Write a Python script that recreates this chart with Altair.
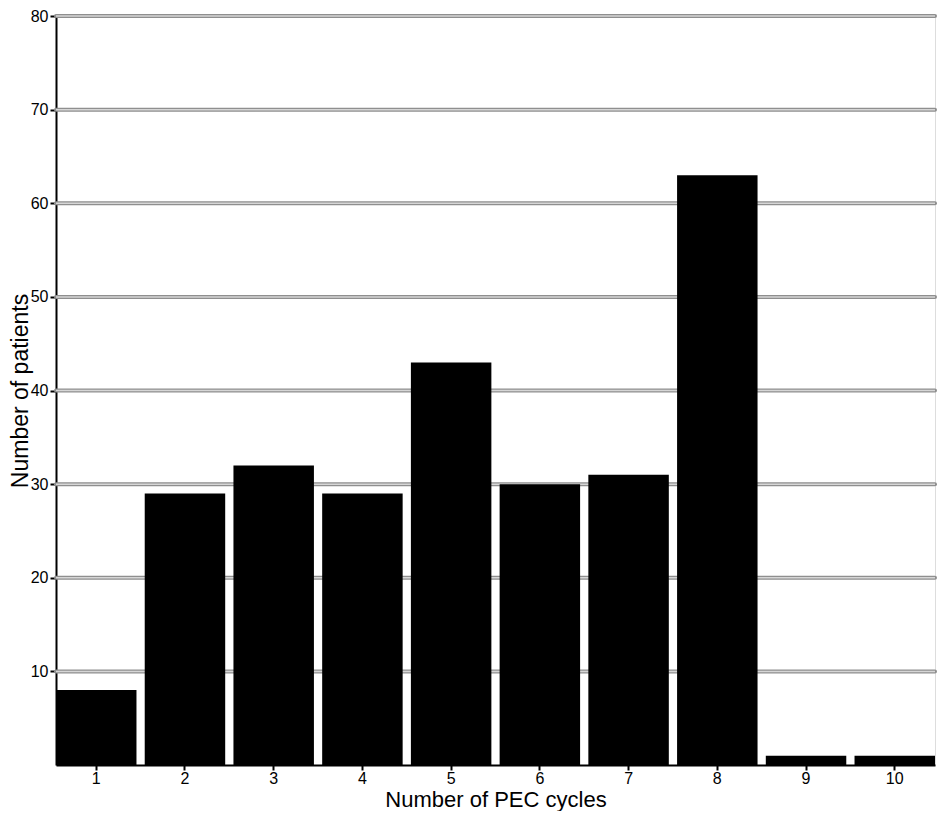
import altair as alt
import pandas as pd

cycles = ["1", "2", "3", "4", "5", "6", "7", "8", "9", "10"]
patients = [8, 29, 32, 29, 43, 30, 31, 63, 1, 1]
y_ticks = [10, 20, 30, 40, 50, 60, 70, 80]

df = pd.DataFrame({"cycles": cycles, "patients": patients})
grid_df = pd.DataFrame({"v": y_ticks})

FONT = "Liberation Sans"
W, H = 879, 749
yscale = alt.Scale(domain=[0, 80], nice=False, zero=True)
xscale = alt.Scale(paddingInner=0.093, paddingOuter=0)

y_axis = alt.Axis(title="Number of patients", values=y_ticks, labelFontSize=16,
                  titleFontSize=23, titleFontWeight="normal", grid=False,
                  tickSize=6, tickWidth=2, tickColor="black", domainColor="black",
                  domainWidth=2, labelPadding=2,
                  titleX=-47, titleY=H / 2, titleAngle=270, titleBaseline="top",
                  titleAlign="center",
                  labelColor="black", titleColor="black",
                  labelFont=FONT, titleFont=FONT)

grid_outer = alt.Chart(grid_df).mark_rule(color="#8f8f8f", strokeWidth=4, strokeCap="round").encode(
    y=alt.Y("v:Q", scale=yscale, axis=y_axis)
)
grid_inner = alt.Chart(grid_df).mark_rule(color="#d6d6d6", strokeWidth=1.5).encode(
    y=alt.Y("v:Q", scale=yscale, axis=y_axis)
)

bars = alt.Chart(df).mark_bar(color="black").encode(
    x=alt.X("cycles:N", sort=cycles, scale=xscale,
            axis=alt.Axis(title="Number of PEC cycles", labelAngle=0, labelFontSize=16,
                          titleFontSize=22, titleFontWeight="normal", labelPadding=0,
                          tickSize=5, tickWidth=2, tickColor="black", domainColor="black",
                          domainWidth=2, titleX=W / 2, titleY=41, titleBaseline="alphabetic",
                          titleAlign="center",
                          labelColor="black", titleColor="black",
                          labelFont=FONT, titleFont=FONT)),
    y=alt.Y("patients:Q", scale=yscale, axis=y_axis),
)

chart = alt.layer(grid_outer, grid_inner, bars).properties(
    width=W, height=H,
    autosize=alt.AutoSizeParams(type="none"),
    padding={"left": 48, "top": 8, "right": 2, "bottom": 46},
).configure_view(stroke=None).configure(background="white")

chart.save("out.html", embed_options={"renderer": "svg", "actions": False})
